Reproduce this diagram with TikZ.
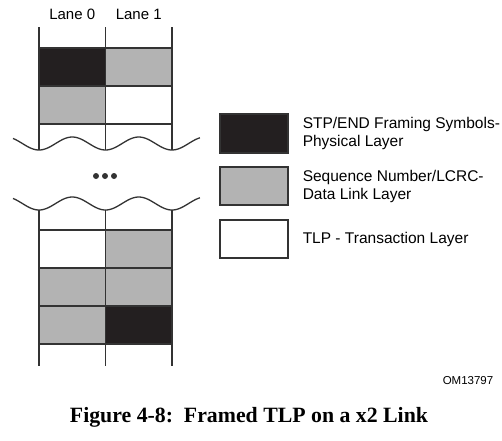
\documentclass[tikz,border=0pt]{standalone}
\usepackage{fontspec}
\setmainfont{Liberation Sans}
\newfontfamily\capfont{Liberation Serif}
\usetikzlibrary{positioning}

\definecolor{symblack}{HTML}{231F20}
\definecolor{dllgrey}{HTML}{B3B3B3}
\definecolor{linegrey}{HTML}{333333}

\begin{document}
\begin{tikzpicture}[x=1pt,y=-1pt,line width=1.5pt,
    cell/.style={draw=linegrey, fill=white, minimum width=66.5pt, minimum height=38pt, inner sep=0pt, outer sep=0pt},
    keybox/.style={cell, minimum width=68pt},
    keytext/.style={align=left, inner sep=0pt, font=\fontsize{15.5}{18}\selectfont},
    lanelabel/.style={font=\fontsize{15}{17}\selectfont}]
        \useasboundingbox (0,0) rectangle (502,440);

        % lane borders
        \draw[linegrey] (39,27) -- (39,150) (105.5,27) -- (105.5,150) (172,27) -- (172,150);
        \draw[linegrey] (39,210) -- (39,366) (105.5,210) -- (105.5,366) (172,210) -- (172,366);

        \node[lanelabel]            (lane0)  at (72.25,14)              {Lane 0};
        \node[lanelabel]            (lane1)  at (138.75,14)             {Lane 1};

        % start of the TLP
        \node[cell, fill=symblack]  (r1l0)   at (72.25,67)              {};
        \node[cell, fill=dllgrey]   (r1l1)   [right=0pt of r1l0]        {};
        \node[cell, fill=dllgrey]   (r2l0)   [below=0pt of r1l0]        {};
        \node[cell]                 (r2l1)   [right=0pt of r2l0]        {};

        % break
        \draw[linegrey, line width=1.3pt] plot[domain=13:200, samples=120, smooth] (\x, {143.5+6.5*cos((\x-39)*5.41353)});
        \draw[linegrey, line width=1.3pt] plot[domain=13:200, samples=120, smooth] (\x, {203.5+6.5*cos((\x-39)*5.41353)});
        \fill[linegrey] (96,176) circle (3pt) (105,176) circle (3pt) (114,176) circle (3pt);

        % end of the TLP
        \node[cell]                 (r3l0)   at (72.25,249)             {};
        \node[cell, fill=dllgrey]   (r3l1)   [right=0pt of r3l0]        {};
        \node[cell, fill=dllgrey]   (r4l0)   [below=0pt of r3l0]        {};
        \node[cell, fill=dllgrey]   (r4l1)   [right=0pt of r4l0]        {};
        \node[cell, fill=dllgrey]   (r5l0)   [below=0pt of r4l0]        {};
        \node[cell, fill=symblack]  (r5l1)   [right=0pt of r5l0]        {};

        % key
        \node[keybox, minimum height=39pt, fill=symblack] (keyphy) at (254,133.5) {};
        \node[keybox, fill=dllgrey]  (keydll)  at (254,186)             {};
        \node[keybox]                (keytlp)  at (254,239)             {};
        \node[keytext] (phytext) [right=14pt of keyphy] {STP/END Framing Symbols-\\Physical Layer};
        \node[keytext] (dlltext) [right=14pt of keydll] {Sequence Number/LCRC-\\Data Link Layer};
        \node[keytext] (tlptext) [right=14pt of keytlp] {TLP - Transaction Layer};

        \node[font=\fontsize{11.5}{13}\selectfont] (omtag) at (468,381) {OM13797};
        \node[font=\capfont\bfseries\fontsize{21.8}{24}\selectfont] (caption) at (249,417) {Figure 4-8:\ \ Framed TLP on a x2 Link};
    \end{tikzpicture}
\end{document}
